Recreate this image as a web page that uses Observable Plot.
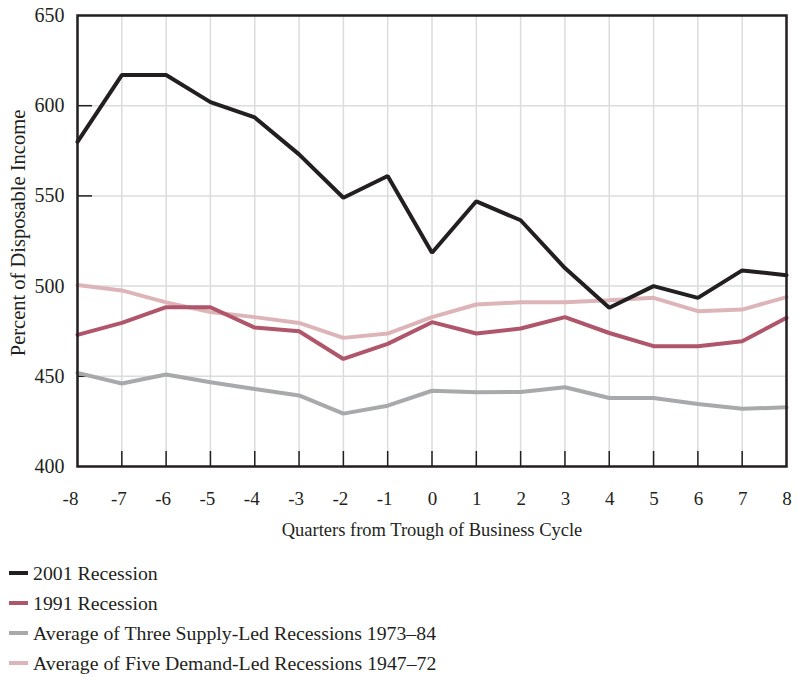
<!DOCTYPE html>
<html>
<head>
<meta charset="utf-8">
<script src="https://cdn.jsdelivr.net/npm/d3@7"></script>
<script src="https://cdn.jsdelivr.net/npm/@observablehq/plot@0.6"></script>
<style>
  body { margin: 0; background: #fff; font-family: "Liberation Serif", serif; color: #231f20; }
  #legend { margin-top: 8px; padding-left: 9px; }
  .row { display: flex; align-items: center; height: 30px; font-size: 19.8px; }
  .sw { width: 19px; height: 4px; margin-right: 5px; }
</style>
</head>
<body>
<div id="chart"></div>
<div id="legend"></div>
<script>
const quarters = [-8,-7,-6,-5,-4,-3,-2,-1,0,1,2,3,4,5,6,7,8];
const rec2001 = [580,617,617,602,593.5,573,549,561,518.5,547,536.5,510,488,500,493.5,508.7,506];
const rec1991 = [473,479.6,488.3,488.3,477,475,459.6,468,480,473.7,476.5,482.8,474,466.7,466.7,469.4,482.4];
const supplyLed = [451.9,446,451,446.7,443,439.4,429.3,433.7,442,441.1,441.3,443.9,438,438,434.6,432,432.8];
const demandLed = [500.6,497.6,491,485.6,482.8,479.6,471.3,473.7,482.8,489.8,491,491,492.2,493.5,486.1,487,493.9];
const seriesNames = ["2001 Recession","1991 Recession","Average of Three Supply-Led Recessions 1973\u201384","Average of Five Demand-Led Recessions 1947\u201372"];
const seriesColors = ["#231f20","#b0566b","#a7a9ac","#ddb5b9"];
const yTicks = [400,450,500,550,600,650];
const yInnerTicks = [450,500,550,600];
const xLabel = "Quarters from Trough of Business Cycle";
const yLabel = "Percent of Disposable Income";

const seriesValues = [rec2001, rec1991, supplyLed, demandLed];
const data = [];
// draw order: demand-led, supply-led, 1991, 2001 (2001 on top)
[3,2,1,0].forEach(i => quarters.forEach((q, j) => data.push({series: seriesNames[i], q, v: seriesValues[i][j]})));

const xAxisCommon = {tickSize: 0, tickPadding: 25, fontSize: 19, label: null, tickFormat: d => String(d)};

const chart = Plot.plot({
  width: 798,
  height: 550,
  marginLeft: 77,
  marginRight: 12,
  marginTop: 15,
  marginBottom: 84,
  style: {fontFamily: "Liberation Serif, serif", color: "#231f20", background: "#fff"},
  x: {domain: [-8, 8], ticks: quarters},
  y: {domain: [400, 650], ticks: yTicks},
  color: {domain: seriesNames, range: seriesColors},
  marks: [
    Plot.ruleX(quarters, {stroke: "#dcdcdc", strokeWidth: 1.5}),
    Plot.ruleY(yTicks, {stroke: "#dcdcdc", strokeWidth: 1.5}),
    Plot.ruleX(quarters.filter(q => q > -8 && q < 8), {x: d => d, y1: 400, y2: 400 + 15 / 1.8, stroke: "#231f20", strokeWidth: 1.5}),
    Plot.ruleY(yInnerTicks, {y: d => d, x1: -8, x2: -8 + 15 / 44.2, stroke: "#231f20", strokeWidth: 1.5}),
    Plot.line(data, {x: "q", y: "v", z: "series", stroke: "series", strokeWidth: 4, strokeLinejoin: "miter"}),
    Plot.frame({stroke: "#231f20", strokeWidth: 2.5}),
    Plot.axisX({...xAxisCommon, ticks: quarters.filter(q => q === -8), dx: -7}),
    Plot.axisX({...xAxisCommon, ticks: quarters.filter(q => q > -8 && q < 0), dx: -3}),
    Plot.axisX({...xAxisCommon, ticks: quarters.filter(q => q >= 0), dx: 0.5}),
    Plot.axisY({ticks: yTicks, tickSize: 0, tickPadding: 13, fontSize: 20, label: null}),
    Plot.text([xLabel], {frameAnchor: "bottom", dy: 69, text: d => d, fontSize: 18.5, fill: "#231f20"}),
    Plot.text([yLabel], {frameAnchor: "left", textAnchor: "middle", dx: -59, dy: -8, rotate: -90, text: d => d, fontSize: 20.5, fill: "#231f20"})
  ]
});
document.getElementById("chart").appendChild(chart);

const legend = document.getElementById("legend");
seriesNames.forEach((name, i) => {
  const row = document.createElement("div");
  row.className = "row";
  const sw = document.createElement("span");
  sw.className = "sw";
  sw.style.background = seriesColors[i];
  const t = document.createElement("span");
  t.textContent = name;
  row.appendChild(sw);
  row.appendChild(t);
  legend.appendChild(row);
});
</script>
</body>
</html>
